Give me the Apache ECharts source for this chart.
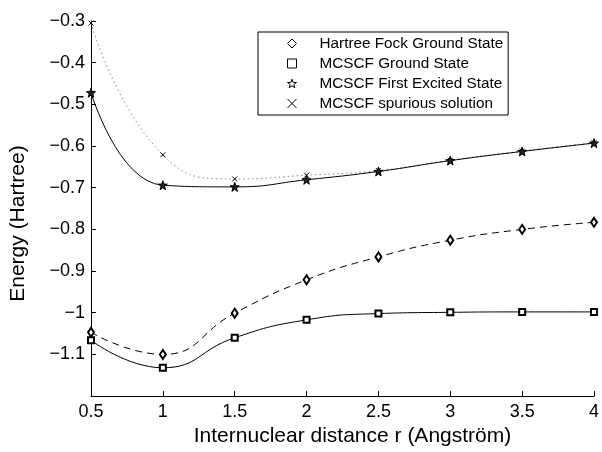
<!DOCTYPE html>
<html>
<head>
<meta charset="utf-8">
<script src="https://cdn.jsdelivr.net/npm/echarts@6/dist/echarts.min.js"></script>
<style>
  html, body { margin: 0; padding: 0; background: #fff; }
  #chart { width: 602px; height: 452px; }
</style>
</head>
<body>
<div id="chart"></div>
<script>
    // internuclear distance r (Angstrom)
    var distances = [0.5, 1, 1.5, 2, 2.5, 3, 3.5, 4];

    // energies (Hartree)
    var hartreeFock = [-1.047, -1.100, -1.001, -0.921, -0.866, -0.826, -0.800, -0.783];
    var mcscfGround = [-1.066, -1.132, -1.060, -1.017, -1.002, -0.999, -0.998, -0.998];
    var mcscfExcited = [-0.472, -0.694, -0.698, -0.681, -0.661, -0.635, -0.613, -0.593];
    var mcscfSpurious = [-0.305, -0.621, -0.679, -0.670, -0.659, -0.634, -0.612, -0.592];

    var seriesNames = [
        'Hartree Fock Ground State',
        'MCSCF Ground State',
        'MCSCF First Excited State',
        'MCSCF spurious solution'
    ];

    var FONT = '"Liberation Sans", Arial, Helvetica, sans-serif';
    var STAR = 'path://M0,-10 L2.35,-3.24 L9.51,-3.09 L3.8,1.24 L5.88,8.09 L0,4 L-5.88,8.09 L-3.8,1.24 L-9.51,-3.09 L-2.35,-3.24 Z';
    var CROSS = 'path://M0,0 L10,10 M10,0 L0,10';

    function pairs(ys) {
        return distances.map(function (x, i) {
            return [x, ys[i]];
        });
    }

    function minusSign(v) {
        var r = Math.round(v * 10) / 10;
        if (r <= -1.2) {
            return '';
        }
        return String(r).replace('-', '\u2212');
    }

    var myChart = echarts.init(document.getElementById('chart'), null, {renderer: 'canvas'});
    var option = {
        backgroundColor: '#fff',
        animation: false,
        textStyle: {fontFamily: FONT, color: '#000'},
        grid: {left: 88, right: 5, top: 21, bottom: 49},
        legend: {
            orient: 'vertical',
            left: 258,
            top: 32,
            padding: [3, 5, 3, 27],
            itemWidth: 9,
            itemHeight: 9,
            itemGap: 3,
            backgroundColor: '#fff',
            borderColor: '#000',
            borderWidth: 1,
            borderRadius: 0,
            textStyle: {fontFamily: FONT, fontSize: 15.3, lineHeight: 17, color: '#000', padding: [0, 0, 0, 18]},
            data: [
                {name: seriesNames[0], icon: 'diamond', itemStyle: {color: '#fff', borderColor: '#000', borderWidth: 1}},
                {name: seriesNames[1], icon: 'rect', itemStyle: {color: '#fff', borderColor: '#000', borderWidth: 1}},
                {name: seriesNames[2], icon: STAR, itemStyle: {color: '#fff', borderColor: '#000', borderWidth: 1}},
                {name: seriesNames[3], icon: CROSS, itemStyle: {color: 'none', borderColor: '#000', borderWidth: 1}}
            ]
        },
        xAxis: {
            type: 'value',
            min: 0.5,
            max: 4,
            interval: 0.5,
            name: 'Internuclear distance r (Angstr\u00f6m)',
            nameLocation: 'middle',
            nameGap: 29,
            nameTextStyle: {fontFamily: FONT, fontSize: 21, color: '#000', padding: [0, 0, 0, 20]},
            axisLine: {lineStyle: {color: '#000', width: 1}},
            axisTick: {inside: true, length: 5, lineStyle: {color: '#000'}},
            axisLabel: {fontFamily: FONT, fontSize: 18, color: '#000', margin: 7},
            splitLine: {show: false}
        },
        yAxis: {
            type: 'value',
            min: -1.2,
            max: -0.3,
            interval: 0.1,
            name: 'Energy (Hartree)',
            nameLocation: 'middle',
            nameGap: 62,
            nameTextStyle: {fontFamily: FONT, fontSize: 21, color: '#000', padding: [0, 30, 0, 0]},
            axisLine: {show: true, lineStyle: {color: '#000', width: 1}},
            axisTick: {show: true, inside: true, length: 5, lineStyle: {color: '#000'}},
            axisLabel: {fontFamily: FONT, fontSize: 18, color: '#000', margin: 6, formatter: minusSign},
            splitLine: {show: false}
        },
        series: [
            {
                name: seriesNames[0],
                type: 'line',
                data: pairs(hartreeFock),
                smooth: 0.5,
                symbol: 'emptyDiamond',
                symbolSize: [6, 9],
                itemStyle: {color: '#000', borderColor: '#000', borderWidth: 1},
                lineStyle: {color: '#000', width: 1, type: [7, 5]},
                z: 3
            },
            {
                name: seriesNames[1],
                type: 'line',
                data: pairs(mcscfGround),
                smooth: 0.5,
                symbol: 'emptyRect',
                symbolSize: 6,
                itemStyle: {color: '#000', borderColor: '#000', borderWidth: 1},
                lineStyle: {color: '#000', width: 1},
                z: 3
            },
            {
                name: seriesNames[3],
                type: 'line',
                data: pairs(mcscfSpurious),
                smooth: 0.5,
                symbol: CROSS,
                symbolSize: 5,
                itemStyle: {color: 'none', borderColor: '#000', borderWidth: 1},
                lineStyle: {color: '#888', width: 1, type: [1.5, 3]},
                z: 2
            },
            {
                name: seriesNames[2],
                type: 'line',
                data: pairs(mcscfExcited),
                smooth: 0.5,
                symbol: STAR,
                symbolSize: 9,
                itemStyle: {color: '#222', borderColor: '#000', borderWidth: 1},
                lineStyle: {color: '#000', width: 1},
                z: 4
            }
        ]
    };
    myChart.setOption(option);
</script>
</body>
</html>
